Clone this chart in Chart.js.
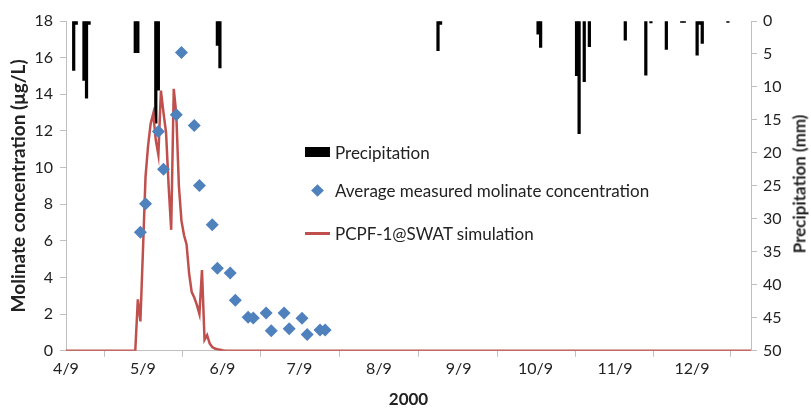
<!DOCTYPE html>
<html>
<head>
<meta charset="utf-8">
<script src="https://cdn.jsdelivr.net/npm/chart.js@4.4.1/dist/chart.umd.min.js"></script>
<style>
  body { margin: 0; background: #fff; }
  #wrap { position: relative; width: 811px; height: 410px; }
  .leg { position: absolute; left: 305px; height: 20px; display: flex; align-items: center;
         white-space: nowrap; font-family: Lato, sans-serif; font-size: 17px; color: #222; }
  .sw { width: 25px; height: 20px; margin-right: 5px; position: relative; }
  .sw.bar::after { content: ''; position: absolute; left: 0; top: 5px; width: 25px; height: 10px; background: #000; }
  .sw.dia::after { content: ''; position: absolute; left: 8px; top: 6px; width: 9px; height: 9px;
                   background: #4f81bd; transform: rotate(45deg); }
  .sw.ln::after { content: ''; position: absolute; left: 0; top: 9px; width: 25px; height: 3px; background: #c0504d; }
  #rtitle { position: absolute; left: 799px; top: 184px; white-space: nowrap;
            font-family: Lato, sans-serif; font-size: 17px; font-weight: bold; color: #222;
            transform: translate(-50%, -50%) rotate(-90deg); }
</style>
</head>
<body>
<div id="wrap">
  <canvas id="chart" width="811" height="410"></canvas>
  <div class="leg" style="top:142px"><span class="sw bar"></span>Precipitation</div>
  <div class="leg" style="top:180px"><span class="sw dia"></span>Average measured molinate concentration</div>
  <div class="leg" style="top:223px"><span class="sw ln"></span>PCPF-1@SWAT simulation</div>
  <div id="rtitle">Precipitation (mm)</div>
</div>
<script>
// x axis range and month ticks
var startDate = '2000-04-09';
var endDate = '2001-01-01';
var tickDates = ['2000-04-09', '2000-05-09', '2000-06-09', '2000-07-09', '2000-08-09',
                 '2000-09-09', '2000-10-09', '2000-11-09', '2000-12-09'];
var tickLabels = ['4/9', '5/9', '6/9', '7/9', '8/9', '9/9', '10/9', '11/9', '12/9'];

// daily precipitation (mm), right axis
var rainDates = ['2000-04-12', '2000-04-13', '2000-04-16', '2000-04-17', '2000-04-18',
                 '2000-05-06', '2000-05-07', '2000-05-14', '2000-05-15', '2000-06-07', '2000-06-08',
                 '2000-09-01', '2000-09-02', '2000-10-10', '2000-10-11', '2000-10-25', '2000-10-26',
                 '2000-10-28', '2000-10-30', '2000-11-13', '2000-11-21', '2000-11-23', '2000-11-29',
                 '2000-12-05', '2000-12-06', '2000-12-11', '2000-12-12', '2000-12-13', '2000-12-23'];
var rainValues = [7.5, 0.5, 9.0, 11.7, 0.5,
                  4.8, 4.8, 15.5, 10.5, 3.7, 7.1,
                  4.5, 0.5, 2.0, 4.0, 8.3, 17.1,
                  9.2, 3.9, 2.9, 8.2, 0.3, 4.3,
                  0.2, 0.2, 5.2, 0.5, 3.4, 0.2];

// average measured molinate concentration (ug/L)
var measuredDates = ['2000-05-08', '2000-05-10', '2000-05-15', '2000-05-17', '2000-05-22', '2000-05-24',
                     '2000-05-29', '2000-05-31', '2000-06-05', '2000-06-07', '2000-06-12', '2000-06-14',
                     '2000-06-19', '2000-06-21', '2000-06-26', '2000-06-28', '2000-07-03', '2000-07-05',
                     '2000-07-10', '2000-07-12', '2000-07-17', '2000-07-19'];
var measuredValues = [6.46, 8.02, 11.97, 9.9, 12.88, 16.28,
                      12.3, 9.02, 6.87, 4.5, 4.24, 2.75,
                      1.82, 1.78, 2.06, 1.09, 2.06, 1.2,
                      1.77, 0.89, 1.13, 1.13];

// PCPF-1@SWAT simulated concentration (ug/L)
var simDates = ['2000-04-09', '2000-05-06', '2000-05-07', '2000-05-08', '2000-05-09', '2000-05-10',
                '2000-05-11', '2000-05-12', '2000-05-13', '2000-05-14', '2000-05-15', '2000-05-16',
                '2000-05-17', '2000-05-18', '2000-05-19', '2000-05-20', '2000-05-21', '2000-05-22',
                '2000-05-23', '2000-05-24', '2000-05-25', '2000-05-26', '2000-05-27', '2000-05-28',
                '2000-05-29', '2000-05-30', '2000-05-31', '2000-06-01', '2000-06-02', '2000-06-03',
                '2000-06-04', '2000-06-05', '2000-06-06', '2000-06-07', '2000-06-08', '2000-06-09',
                '2000-06-10', '2001-01-01'];
var simValues = [0, 0, 2.8, 1.6, 5.5, 9.5,
                 11.2, 12.4, 12.95, 11.5, 10.7, 14.2,
                 13.0, 11.9, 9.0, 6.6, 14.3, 12.9,
                 9.0, 7.1, 6.3, 5.8, 4.2, 3.2,
                 2.9, 2.5, 2.0, 4.4, 0.6, 0.85,
                 0.4, 0.2, 0.12, 0.08, 0.05, 0.02,
                 0, 0];

function dayNum(s) {
    var p = s.split('-');
    var t0 = startDate.split('-');
    return (Date.UTC(+p[0], +p[1] - 1, +p[2]) - Date.UTC(+t0[0], +t0[1] - 1, +t0[2])) / 86400000;
}

function toPoints(dates, values) {
    var pts = [];
    for (var i = 0; i < dates.length; i++) {
        pts.push({ x: dayNum(dates[i]), y: values[i] });
    }
    return pts;
}

var tickDays = tickDates.map(dayNum);
var textColor = '#222';
var axisColor = '#bfbfbf';
var fontFamily = 'Lato, sans-serif';

var chart = new Chart(document.getElementById('chart'), {
    type: 'bar',
    data: {
        datasets: [
            {
                type: 'scatter',
                label: 'Average measured molinate concentration',
                data: toPoints(measuredDates, measuredValues),
                yAxisID: 'y',
                pointStyle: 'rectRot',
                pointRadius: 6.5,
                backgroundColor: '#4f81bd',
                borderColor: '#4f81bd',
                borderWidth: 0,
                showLine: false,
                order: 1
            },
            {
                type: 'line',
                label: 'PCPF-1@SWAT simulation',
                data: toPoints(simDates, simValues),
                yAxisID: 'y',
                borderColor: '#c0504d',
                borderWidth: 2.5,
                pointRadius: 0,
                tension: 0,
                fill: false,
                order: 2
            },
            {
                type: 'bar',
                label: 'Precipitation',
                data: toPoints(rainDates, rainValues),
                yAxisID: 'y2',
                backgroundColor: '#000',
                barPercentage: 1,
                categoryPercentage: 1,
                order: 3
            }
        ]
    },
    options: {
        responsive: false,
        animation: false,
        devicePixelRatio: 1,
        layout: { padding: { top: 21, left: 0, right: 0, bottom: 0 } },
        plugins: { legend: { display: false }, tooltip: { enabled: false } },
        scales: {
            x: {
                type: 'linear',
                min: 0,
                max: dayNum(endDate),
                offset: false,
                afterFit: function(scale) { scale.height = 59.3; },
                afterBuildTicks: function(scale) {
                    scale.ticks = tickDays.map(function(v) { return { value: v }; });
                },
                ticks: {
                    autoSkip: false,
                    maxRotation: 0,
                    padding: 3,
                    color: textColor,
                    font: { family: fontFamily, size: 16 },
                    callback: function(value, index) { return tickLabels[index]; }
                },
                grid: { drawOnChartArea: false, drawTicks: true, tickLength: 6, color: axisColor },
                border: { color: axisColor },
                title: {
                    display: true,
                    text: '2000',
                    color: textColor,
                    font: { family: fontFamily, size: 17, weight: 'bold' },
                    padding: { top: 0, bottom: 0 }
                }
            },
            y: {
                position: 'left',
                min: 0,
                max: 18,
                afterFit: function(scale) { scale.width = 66; },
                ticks: {
                    stepSize: 2,
                    padding: 7,
                    color: textColor,
                    font: { family: fontFamily, size: 16 }
                },
                grid: { drawOnChartArea: false, drawTicks: true, tickLength: 6, color: axisColor },
                border: { color: axisColor },
                title: {
                    display: true,
                    text: 'Molinate concentration (μg/L)',
                    color: textColor,
                    font: { family: fontFamily, size: 19, weight: 'bold' },
                    padding: { top: 7, bottom: 0 }
                }
            },
            y2: {
                position: 'right',
                reverse: true,
                min: 0,
                max: 50,
                afterFit: function(scale) { scale.width = 60; },
                ticks: {
                    stepSize: 5,
                    padding: 6,
                    color: textColor,
                    font: { family: fontFamily, size: 16 }
                },
                grid: { drawOnChartArea: false, drawTicks: true, tickLength: 6, color: axisColor },
                border: { color: axisColor },
                title: { display: false }
            }
        }
    }
});
</script>
</body>
</html>
